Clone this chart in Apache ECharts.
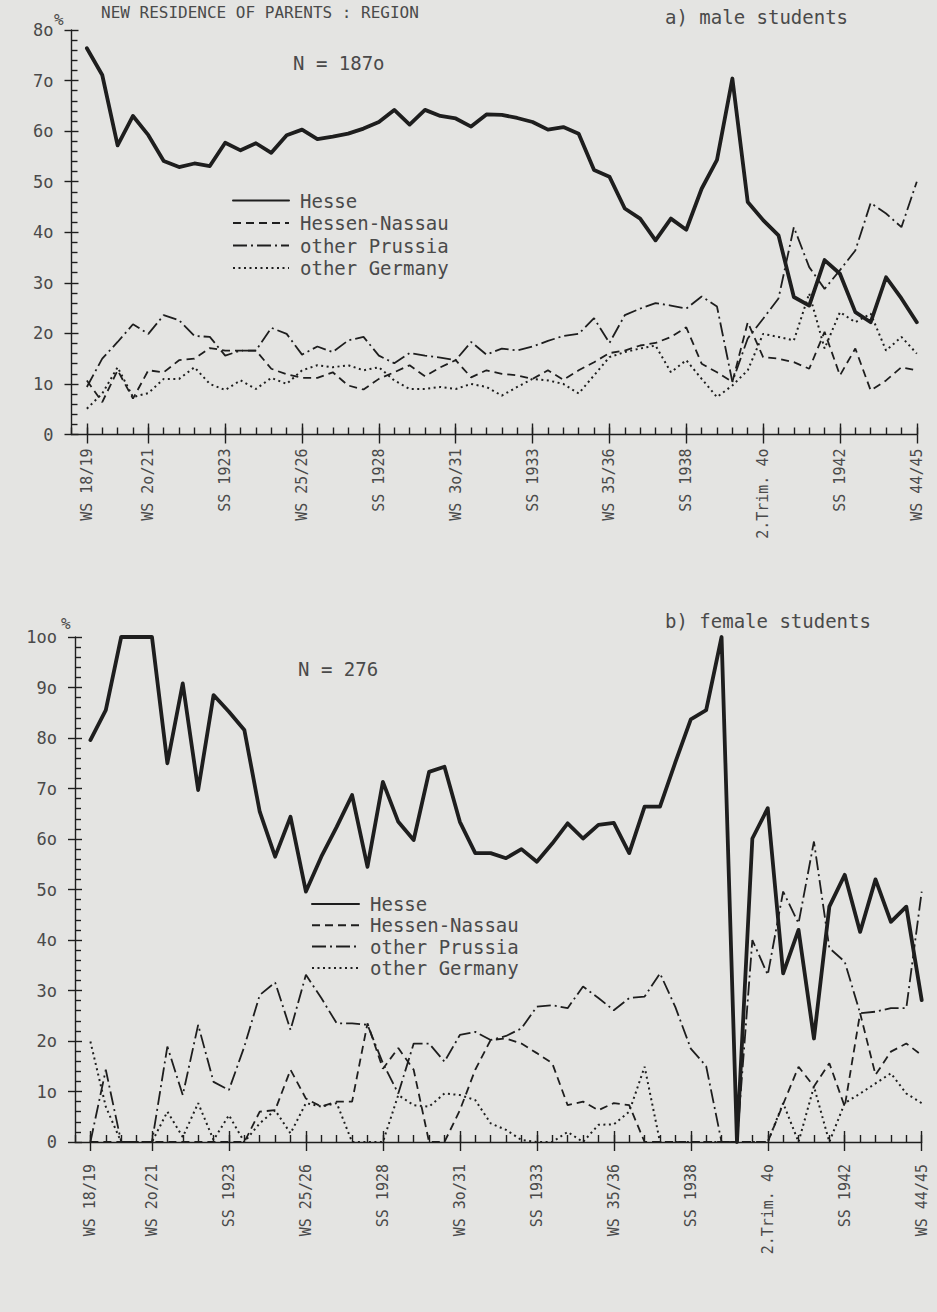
<!DOCTYPE html>
<html>
<head>
<meta charset="utf-8">
<script src="https://cdn.jsdelivr.net/npm/echarts@6/dist/echarts.min.js"></script>
<style>
html,body{margin:0;padding:0;background:#e4e4e2;}
#chart{width:937px;height:1312px;}
</style>
</head>
<body>
<div id="chart"></div>
<script>
// ---------- data ----------
const semesters = [
 'WS 18/19','SS 1919','WS 19/2o','SS 192o','WS 2o/21','SS 1921','WS 21/22','SS 1922','WS 22/23','SS 1923',
 'WS 23/24','SS 1924','WS 24/25','SS 1925','WS 25/26','SS 1926','WS 26/27','SS 1927','WS 27/28','SS 1928',
 'WS 28/29','SS 1929','WS 29/3o','SS 193o','WS 3o/31','SS 1931','WS 31/32','SS 1932','WS 32/33','SS 1933',
 'WS 33/34','SS 1934','WS 34/35','SS 1935','WS 35/36','SS 1936','WS 36/37','SS 1937','WS 37/38','SS 1938',
 'WS 38/39','SS 1939','Herbst 1939','1.Trim. 4o','2.Trim. 4o','3.Trim. 4o','1.Trim. 41','SS 1941','WS 41/42','SS 1942',
 'WS 42/43','SS 1943','WS 43/44','SS 1944','WS 44/45'];
const majorTicks = [0,4,9,14,19,24,29,34,39,44,49,54];
const seriesNames = ['Hesse','Hessen-Nassau','other Prussia','other Germany'];
const yLabelsMale = ['0','1o','2o','3o','4o','5o','6o','7o','8o'];
const yLabelsFemale = ['0','1o','2o','3o','4o','5o','6o','7o','8o','9o','1oo'];

// a) male students (N = 1870)
const hesseMale = [76.4,71.1,57.2,63.0,59.2,54.1,52.9,53.6,53.1,57.7,
 56.2,57.6,55.7,59.2,60.3,58.4,58.9,59.5,60.5,61.8,
 64.2,61.3,64.2,63.0,62.5,60.9,63.3,63.2,62.6,61.8,
 60.3,60.8,59.5,52.3,51.0,44.7,42.7,38.4,42.7,40.5,
 48.6,54.3,70.4,46.0,42.4,39.4,27.2,25.5,34.5,31.8,
 24.2,22.2,31.1,26.9,22.2];
const hessenNassauMale = [10.7,6.4,12.7,7.1,12.7,12.3,14.7,15.0,17.1,16.6,
 16.6,16.6,13.0,11.9,11.2,11.2,12.3,9.7,8.9,11.0,
 12.3,13.7,11.5,13.3,14.7,11.3,12.7,12.0,11.7,11.0,
 12.7,10.8,12.7,14.3,16.1,16.6,17.6,18.1,19.3,21.2,
 14.0,12.3,10.4,22.2,15.3,15.0,14.3,13.0,20.3,11.7,
 17.0,8.7,10.7,13.3,12.7];
const otherPrussiaMale = [9.4,15.0,18.3,21.8,19.9,23.6,22.6,19.5,19.3,15.6,
 16.6,16.6,21.1,19.9,15.8,17.4,16.3,18.6,19.3,15.6,
 14.1,16.1,15.6,15.2,14.7,18.3,15.8,17.0,16.6,17.4,
 18.5,19.5,19.9,23.0,18.1,23.6,24.9,26.0,25.5,24.9,
 27.3,25.3,10.4,19.0,22.9,26.9,41.0,33.1,28.8,32.5,
 36.4,45.8,43.7,41.0,50.0];
const otherGermanyMale = [5.1,8.1,13.3,7.4,8.2,11.0,11.0,13.3,10.0,8.8,
 10.7,9.0,11.2,10.0,12.7,13.7,13.3,13.7,12.7,13.3,
 10.7,9.0,9.0,9.4,9.0,10.0,9.4,7.7,9.4,11.0,
 10.7,10.0,8.1,11.7,15.3,16.3,17.0,17.6,12.3,14.7,
 11.0,7.4,9.7,12.7,19.9,19.3,18.6,27.9,17.0,24.2,
 22.2,23.9,16.6,19.3,16.0];

// b) female students (N = 276)
const hesseFemale = [79.6,85.5,100,100,100,75.0,90.8,69.7,88.5,85.2,
 81.6,65.4,56.5,64.4,49.6,56.5,62.4,68.7,54.5,71.3,
 63.4,59.8,73.3,74.3,63.4,57.2,57.2,56.2,58.0,55.5,
 59.1,63.1,60.1,62.8,63.2,57.2,66.4,66.4,75.2,83.7,
 85.5,100,0,60.1,66.1,33.4,42.0,20.5,46.6,52.9,
 41.6,52.0,43.6,46.6,28.1];
const hessenNassauFemale = [0,0,0,0,0,0,0,0,0,0,
 0,6.0,6.3,14.3,8.6,7.0,8.0,8.0,23.5,14.5,
 18.6,14.3,0,0,6.3,14.3,20.2,20.5,19.5,17.6,
 15.6,7.3,8.0,6.3,7.7,7.3,0,0,0,0,
 0,0,0,0,0,7.5,14.9,11.0,15.6,7.0,
 25.5,13.3,17.9,19.5,17.2];
const otherPrussiaFemale = [0,14.3,0,0,0,18.9,9.3,23.2,11.9,10.3,
 18.9,29.1,31.6,22.2,33.1,28.5,23.5,23.5,23.2,15.6,
 9.6,19.5,19.5,15.9,21.2,21.8,20.2,21.0,22.5,26.8,
 27.1,26.5,30.8,28.5,26.1,28.5,28.8,33.4,26.7,18.5,
 15.0,0,0,40.0,33.1,49.6,43.3,59.5,38.4,35.7,
 25.5,25.8,26.5,26.5,49.6];
const otherGermanyFemale = [19.9,7.0,0,0,0,6.0,1.0,7.7,0.4,5.3,
 0,3.7,6.3,1.7,7.7,7.0,7.7,0,0,0,
 9.3,7.3,7.0,9.6,9.3,8.3,3.7,2.4,0.4,0,
 0,2.0,0,3.4,3.5,6.0,14.9,0,0,0,
 0,0,0,0,0,7.7,0,11.0,0,7.7,
 9.6,11.6,13.6,9.6,7.7];

// ---------- styling ----------
const FONT = 'DejaVu Sans Mono';
const INK = '#1e1e1e';
const TXT = '#4a4a4a';
const styles = [
  {color: INK, width: 3.8, type: 'solid', cap: 'round', join: 'round'},
  {color: INK, width: 1.8, type: [8, 5]},
  {color: INK, width: 1.8, type: [14, 4, 2, 4]},
  {color: INK, width: 2, type: [2, 3.5]}
];

function mkX(gridIndex, margin) {
  const ls = {color: INK, width: 1.4};
  const base = {type: 'value', gridIndex: gridIndex, min: -1, max: 54, interval: 1, position: 'bottom',
    splitLine: {show: false}, axisLine: {show: false, onZero: false}, axisTick: {show: false}, axisLabel: {show: false}};
  return [
    Object.assign({}, base, {axisLine: {show: true, onZero: false, lineStyle: ls},
      axisTick: {show: true, inside: true, length: 7, lineStyle: ls}}),
    Object.assign({}, base, {axisTick: {show: true, inside: true, length: 11, lineStyle: ls, customValues: majorTicks}}),
    Object.assign({}, base, {axisTick: {show: true, inside: false, length: 9, lineStyle: ls, customValues: majorTicks},
      axisLabel: {show: true, customValues: majorTicks, rotate: 90, margin: margin,
        fontFamily: FONT, fontSize: 15, color: TXT, formatter: function (v) { return semesters[v]; }}})
  ];
}
function mkY(gridIndex, max, labels, margin) {
  const ls = {color: INK, width: 1.4};
  return [
    {type: 'value', gridIndex: gridIndex, min: 0, max: max, interval: 10, position: 'left',
      axisLine: {show: true, onZero: false, lineStyle: ls},
      axisTick: {show: true, inside: true, length: 7, lineStyle: ls},
      minorTick: {show: true, splitNumber: 5, length: 6, lineStyle: ls},
      splitLine: {show: false}, minorSplitLine: {show: false},
      axisLabel: {margin: margin, fontFamily: FONT, fontSize: 17, color: TXT,
        formatter: function (v) { return labels[Math.round(v / 10)]; }}},
    {type: 'value', gridIndex: gridIndex, min: 0, max: max, interval: 10, position: 'left',
      axisLine: {show: false, onZero: false},
      axisTick: {show: true, inside: false, length: 7, lineStyle: ls},
      axisLabel: {show: false}, splitLine: {show: false}}
  ];
}
function mkSeries(arrs, gi) {
  return arrs.map(function (arr, k) {
    return {type: 'line', name: seriesNames[k], xAxisIndex: gi * 3, yAxisIndex: gi * 2,
      data: arr.map(function (v, i) { return [i, v]; }),
      symbol: 'none', showSymbol: false, color: INK, lineStyle: styles[k],
      silent: true, animation: false, z: 10 - k};
  });
}
function mkLegend(left, top, w, gap) {
  return {orient: 'vertical', left: left, top: top, padding: 0, itemWidth: w, itemHeight: 14, itemGap: gap,
    data: seriesNames, selectedMode: false,
    itemStyle: {color: 'rgba(0,0,0,0)', borderColor: 'rgba(0,0,0,0)', borderWidth: 0, opacity: 0},
    textStyle: {fontFamily: FONT, fontSize: 19, color: TXT, lineHeight: 16, padding: [0, 0, 0, 6]}};
}
function txt(x, y, s, size) {
  return {type: 'text', x: x, y: y, silent: true,
    style: {text: s, fontFamily: FONT, fontSize: size || 19, fill: TXT, verticalAlign: 'middle', align: 'left'}};
}

const chart = echarts.init(document.getElementById('chart'), null, {renderer: 'svg'});
chart.setOption({
  backgroundColor: '#e4e4e2',
  animation: false,
  grid: [
    {left: 71.5, right: 20.2, top: 30, height: 404.5},
    {left: 75, right: 15.3, top: 637, height: 505}
  ],
  xAxis: mkX(0, 14).concat(mkX(1, 22)),
  yAxis: mkY(0, 80, yLabelsMale, 18).concat(mkY(1, 100, yLabelsFemale, 18)),
  legend: [mkLegend(232, 191, 56, 3.5), mkLegend(311, 894.5, 47, 2.3)],
  series: mkSeries([hesseMale, hessenNassauMale, otherPrussiaMale, otherGermanyMale], 0)
    .concat(mkSeries([hesseFemale, hessenNassauFemale, otherPrussiaFemale, otherGermanyFemale], 1)),
  graphic: [
    txt(101, 12, 'NEW RESIDENCE OF PARENTS : REGION', 16),
    txt(665, 17, 'a) male students'),
    txt(293, 63, 'N = 187o'),
    txt(54, 19, '%', 16),
    txt(665, 621, 'b) female students'),
    txt(298, 669, 'N = 276'),
    txt(61, 623, '%', 16)
  ]
});
</script>
</body>
</html>
